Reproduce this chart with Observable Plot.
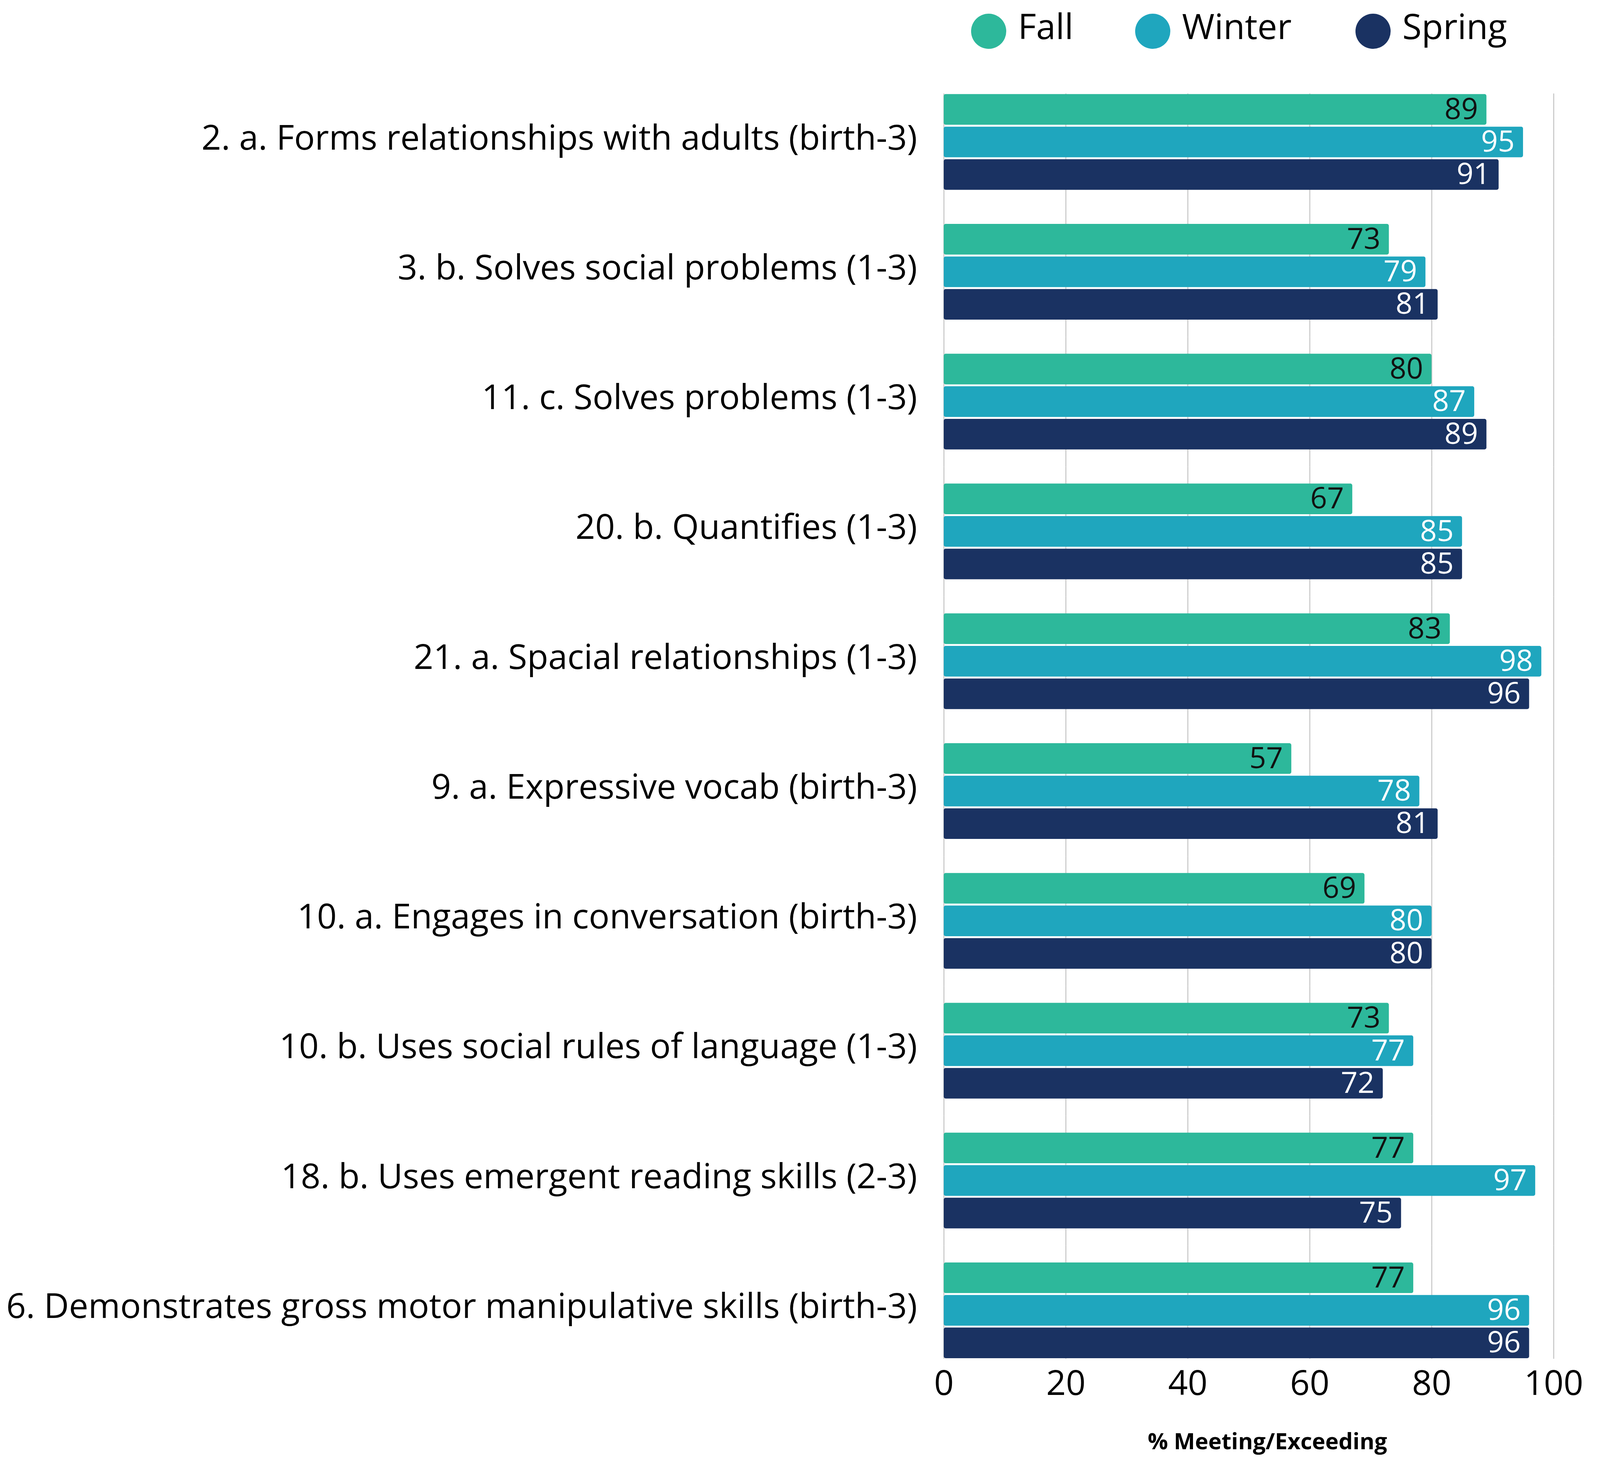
<!DOCTYPE html>
<html>
<head>
<meta charset="utf-8">
<script src="https://cdn.jsdelivr.net/npm/d3@7"></script>
<script src="https://cdn.jsdelivr.net/npm/@observablehq/plot@0.6"></script>
<style>
  body { margin: 0; background: #fff; font-family: "Open Sans", sans-serif; }
  #legend { position: relative; height: 160px; width: 4130px; }
  .item { position: absolute; top: 0; height: 160px; display: flex; align-items: center; font-size: 90px; color: #000; }
  .item span { position: relative; top: -15px; }
  .sw { width: 90px; height: 90px; border-radius: 50%; margin-right: 30px; }
  g[aria-label="x-axis label"] text { font-weight: 700; font-size: 58px; }
  g[aria-label="x-axis label"] { translate: 48px 0; }
</style>
</head>
<body>
<div id="legend"></div>
<div id="chart"></div>
<script>
const categories = [
  "2. a. Forms relationships with adults (birth-3)",
  "3. b. Solves social problems (1-3)",
  "11. c. Solves problems (1-3)",
  "20. b. Quantifies (1-3)",
  "21. a. Spacial relationships (1-3)",
  "9. a. Expressive vocab (birth-3)",
  "10. a. Engages in conversation (birth-3)",
  "10. b. Uses social rules of language (1-3)",
  "18. b. Uses emergent reading skills (2-3)",
  "6. Demonstrates gross motor manipulative skills (birth-3)"
];
const fall   = [89, 73, 80, 67, 83, 57, 69, 73, 77, 77];
const winter = [95, 79, 87, 85, 98, 78, 80, 77, 97, 96];
const spring = [91, 81, 89, 85, 96, 81, 80, 72, 75, 96];
const seasons = ["Fall", "Winter", "Spring"];
const seasonColors = ["#2db89b", "#1fa6be", "#1a3262"];
const labelColors = ["#111111", "#ffffff", "#ffffff"];
const xTicks = [0, 20, 40, 60, 80, 100];
const xLabel = "% Meeting/Exceeding";
const legendLeft = [2486, 2906, 3470];

const series = [fall, winter, spring];
const rows = categories.flatMap((c, i) =>
  seasons.map((s, k) => ({category: c, season: s, value: series[k][i]}))
);
const gridRows = categories.flatMap((c) => xTicks.map((t) => ({category: c, tick: t})));
const firstCat = categories[0], lastCat = categories[categories.length - 1];

// Legend
const legend = document.getElementById("legend");
seasons.forEach((s, k) => {
  const it = document.createElement("div");
  it.className = "item";
  it.style.left = legendLeft[k] + "px";
  const sw = document.createElement("div");
  sw.className = "sw";
  sw.style.background = seasonColors[k];
  const t = document.createElement("span");
  t.textContent = s;
  it.appendChild(sw); it.appendChild(t);
  legend.appendChild(it);
});

const gridStyle = {x: "tick", fy: "category", stroke: "#cdcdcd", strokeWidth: 3};

const chart = Plot.plot({
  width: 4130,
  height: 3597,
  marginTop: 37.5,
  marginBottom: 209.5,
  marginLeft: 2436,
  marginRight: 120,
  style: {fontFamily: "Open Sans", fontSize: "89px", color: "#000", background: "#fff"},
  fy: {domain: categories, padding: 0, axis: null},
  y: {domain: seasons, paddingInner: 0.0588, paddingOuter: 0.5, axis: null},
  x: {domain: [0, 100], axis: null},
  color: {domain: seasons, range: seasonColors},
  marks: [
    Plot.ruleX(gridRows.filter(d => d.category === firstCat), {...gridStyle, insetTop: 42}),
    Plot.ruleX(gridRows.filter(d => d.category !== firstCat && d.category !== lastCat), gridStyle),
    Plot.ruleX(gridRows.filter(d => d.category === lastCat), {...gridStyle, insetBottom: 43}),
    Plot.barX(rows, {x: "value", y: "season", fy: "category", fill: "season", rx: 5}),
    ...seasons.map((s, k) => Plot.text(rows, {
      filter: d => d.season === s,
      x: "value", y: "season", fy: "category", text: d => String(d.value),
      textAnchor: "end", dx: -22, fill: labelColors[k], fontSize: 76
    })),
    Plot.axisFy({anchor: "left", tickSize: 0, tickPadding: 69, dy: -10, label: null}),
    Plot.axisX({ticks: xTicks, tickSize: 0, tickPadding: -13, label: xLabel, labelAnchor: "center", labelOffset: 190, labelArrow: "none"})
  ]
});
document.getElementById("chart").appendChild(chart);
</script>
</body>
</html>
